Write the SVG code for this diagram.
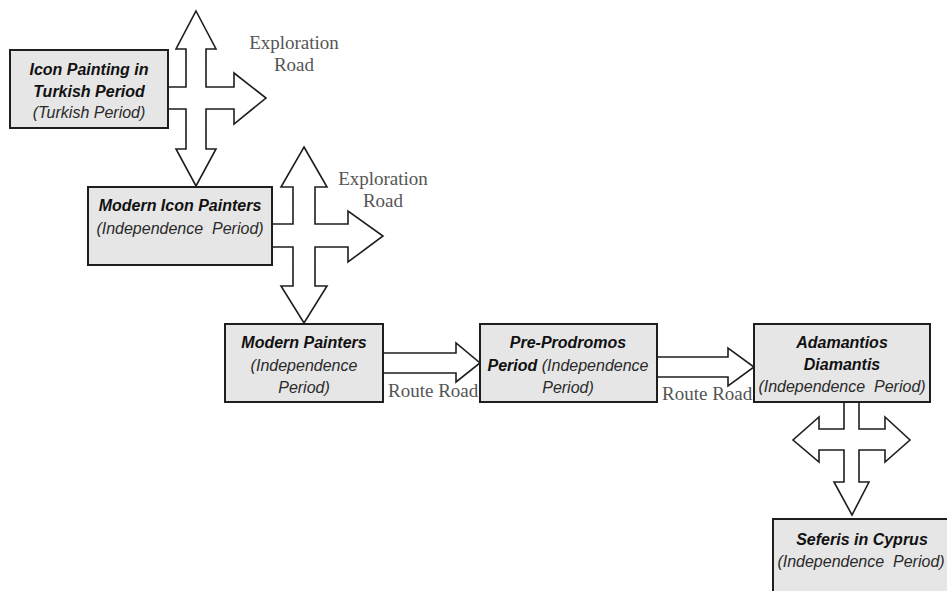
<svg xmlns="http://www.w3.org/2000/svg" width="947" height="591" viewBox="0 0 947 591">
<style>
.box{fill:#e6e6e6;stroke:#1e1e1e;stroke-width:2}
.arr{fill:#ffffff;stroke:#1e1e1e;stroke-width:1.6;stroke-linejoin:miter}
.t{font-family:"Liberation Sans",Arial,sans-serif;font-size:16px;text-anchor:middle;font-style:italic;white-space:pre}
.b{font-weight:bold;fill:#111}
.r{font-weight:normal;fill:#2a2a2a}
.lbl{font-family:"Liberation Serif","Times New Roman",serif;font-size:19px;fill:#555}
</style>
<rect width="947" height="591" fill="#ffffff"/>
<g id="connectors">
  <polygon class="arr" points="196,11 216,49 206,49 206,87 234,87 234,73 266,98 234,124 234,109 206,109 206,149 216,149 196,186 176,149 186,149 186,109 168,109 168,87 186,87 186,49 176,49"/>
  <polygon class="arr" points="304,147 327,187 315,187 315,224 348,224 348,211 383,236 348,262 348,247 315,247 315,286 327,286 304,323 281,286 293,286 293,247 272,247 272,224 293,224 293,187 281,187"/>
  <polygon class="arr" points="383,353 456,353 456,343 480,363 456,382 456,373 383,373"/>
  <polygon class="arr" points="657,357 728,357 728,348 754,367 728,386 728,377 657,377"/>
  <polygon class="arr" points="844,402 859,402 859,429 885,429 885,417 910,440 885,462 885,450 859,450 859,482 869,482 852,515 834,482 844,482 844,450 819,450 819,462 793,440 819,417 819,429 844,429"/>
  <text class="lbl" x="294" y="49" text-anchor="middle">Exploration</text>
  <text class="lbl" x="294" y="71" text-anchor="middle">Road</text>
  <text class="lbl" x="383" y="185" text-anchor="middle">Exploration</text>
  <text class="lbl" x="383" y="207" text-anchor="middle">Road</text>
  <text class="lbl" x="388" y="397">Route Road</text>
  <text class="lbl" x="662" y="400">Route Road</text>
</g>
<g id="node-icon-turkish">
  <rect class="box" x="10" y="50" width="158" height="78"/>
  <text class="t b" x="89" y="75">Icon Painting in</text>
  <text class="t b" x="89" y="97">Turkish Period</text>
  <text class="t r" x="89" y="118">(Turkish Period)</text>
</g>
<g id="node-modern-icon">
  <rect class="box" x="88" y="187" width="184" height="78"/>
  <text class="t b" x="180" y="211">Modern Icon Painters</text>
  <text class="t r" x="180" y="234">(Independence  Period)</text>
</g>
<g id="node-modern-painters">
  <rect class="box" x="225" y="324" width="158" height="78"/>
  <text class="t b" x="304" y="348">Modern Painters</text>
  <text class="t r" x="304" y="371">(Independence</text>
  <text class="t r" x="304" y="393">Period)</text>
</g>
<g id="node-pre-prodromos">
  <rect class="box" x="480" y="324" width="177" height="78"/>
  <text class="t b" x="568" y="348">Pre-Prodromos</text>
  <text class="t" x="568" y="371"><tspan class="b">Period</tspan><tspan class="r"> (Independence</tspan></text>
  <text class="t r" x="568" y="393">Period)</text>
</g>
<g id="node-adamantios">
  <rect class="box" x="754" y="324" width="176" height="78"/>
  <text class="t b" x="842" y="348">Adamantios</text>
  <text class="t b" x="842" y="370">Diamantis</text>
  <text class="t r" x="842" y="392">(Independence  Period)</text>
</g>
<g id="node-seferis">
  <rect class="box" x="773" y="519" width="186" height="90"/>
  <text class="t b" x="862" y="545">Seferis in Cyprus</text>
  <text class="t r" x="861" y="567">(Independence  Period)</text>
</g>
</svg>
